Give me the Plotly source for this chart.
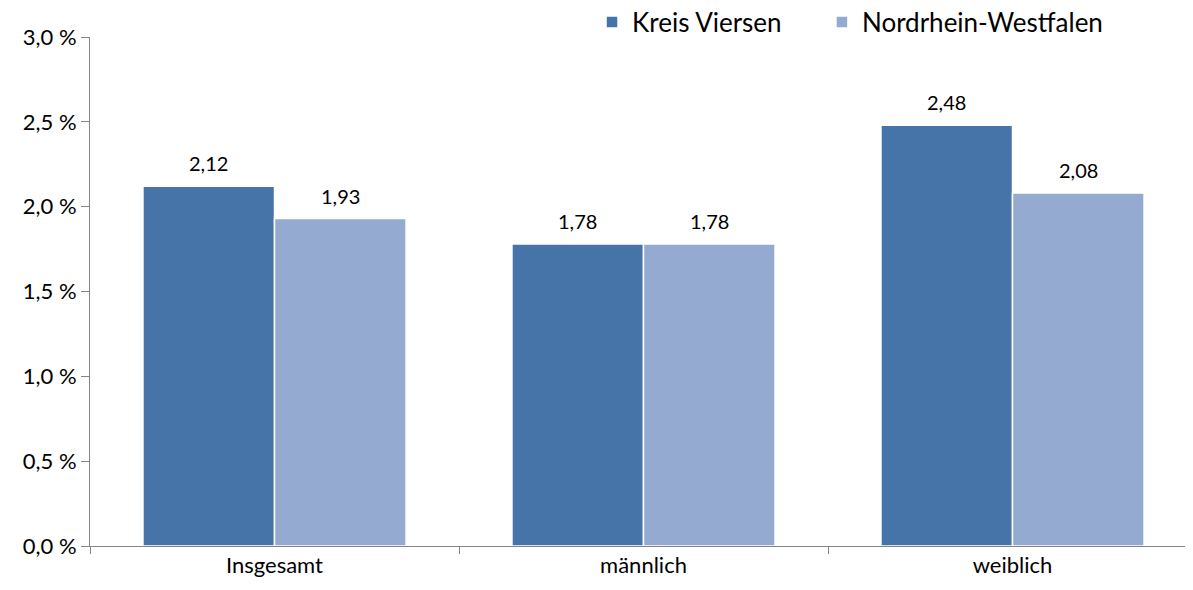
import plotly.graph_objects as go

categories = ["Insgesamt", "männlich", "weiblich"]
kreis_viersen = [2.12, 1.78, 2.48]
nrw = [1.93, 1.78, 2.08]
series_names = ["Kreis Viersen", "Nordrhein-Westfalen"]
colors = ["#4674A8", "#95AAD0"]

FONT = "Lato, 'Open Sans', sans-serif"

fig = go.Figure()
for name, vals, col, lg in zip(series_names, [kreis_viersen, nrw], colors, ["legend", "legend2"]):
    fig.add_trace(go.Bar(
        x=categories, y=vals, name=name, legend=lg, showlegend=True,
        marker=dict(color=col, line=dict(color="white", width=1.5)),
        hoverinfo="skip",
    ))

for i, (vals, shift) in enumerate([(kreis_viersen, -66), (nrw, 66)]):
    for c, v in zip(categories, vals):
        fig.add_annotation(
            x=c, y=v, xref="x", yref="y",
            text=f"{v:.2f}".replace(".", ","),
            showarrow=False, xshift=shift, yshift=23,
            font=dict(family=FONT, size=20, color="#000000"),
        )


def legend_style(xpos):
    return dict(
        orientation="h", xref="paper", yref="paper",
        x=xpos, y=1.0295, xanchor="left", yanchor="middle",
        font=dict(family=FONT, size=26, color="#000000"),
        bgcolor="rgba(0,0,0,0)",
    )


fig.update_layout(
    width=1193, height=590,
    showlegend=True,
    paper_bgcolor="white", plot_bgcolor="white",
    margin=dict(l=82, r=4, t=29, b=52, autoexpand=False),
    barmode="group", bargap=0.287, bargroupgap=0,
    separators=",.",
    font=dict(family=FONT, size=22, color="#000000"),
    legend=legend_style(0.4535),
    legend2=legend_style(0.6612),
    xaxis=dict(
        showline=True, linecolor="#868686", linewidth=1,
        ticks="outside", tickson="boundaries", ticklen=7, tickcolor="#868686",
        showgrid=False, tickfont=dict(family=FONT, size=22),
    ),
    yaxis=dict(
        range=[0, 3.0], dtick=0.5, tick0=0, tickformat=".1f", ticksuffix=" %",
        showline=True, linecolor="#868686", linewidth=1,
        ticks="outside", ticklen=8, tickcolor="#868686",
        showgrid=False, zeroline=False, tickfont=dict(family=FONT, size=22),
    ),
)

fig.write_html("out.html")
